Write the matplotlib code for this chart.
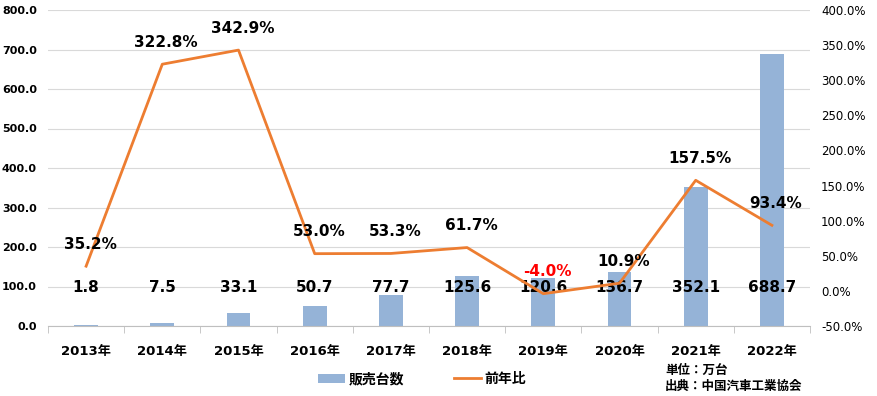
import matplotlib
matplotlib.use("Agg")
import matplotlib.pyplot as plt
from matplotlib.lines import Line2D
from matplotlib.patches import Patch

years = ["2013年", "2014年", "2015年", "2016年", "2017年", "2018年", "2019年", "2020年", "2021年", "2022年"]
sales = [1.8, 7.5, 33.1, 50.7, 77.7, 125.6, 120.6, 136.7, 352.1, 688.7]
yoy = [35.2, 322.8, 342.9, 53.0, 53.3, 61.7, -4.0, 10.9, 157.5, 93.4]
left_ticks = [0, 100, 200, 300, 400, 500, 600, 700, 800]
right_ticks = [-50, 0, 50, 100, 150, 200, 250, 300, 350, 400]

FAM = ["DejaVu Sans", "Noto Sans CJK JP"]
plt.rcParams["font.family"] = FAM

bar_color = "#95B3D7"
line_color = "#ED7D31"

fig = plt.figure(figsize=(8.78, 3.96), dpi=100)
ax = fig.add_axes([48/878, (396-326)/396, 762/878, 316/396])
ax2 = ax.twinx()

x = list(range(len(years)))
ax.bar(x, sales, width=0.31, color=bar_color, zorder=2)
ax.set_xlim(-0.5, len(years) - 0.5)
ax.set_ylim(0, 800)
ax.set_yticks(left_ticks)
ax.set_yticklabels([f"{v:.1f}" for v in left_ticks], fontsize=8, fontweight="bold")
ax.yaxis.grid(True, color="#D9D9D9", linewidth=0.8, zorder=0)
ax.set_axisbelow(True)
ax.set_xticks(x)
ax.set_xticklabels(years, fontsize=9.5, fontweight="bold")
ax.set_xticks([i - 0.5 for i in range(len(years) + 1)], minor=True)
ax.tick_params(axis="x", which="major", length=0, pad=14)
ax.tick_params(axis="x", which="minor", length=5, color="#BFBFBF")
ax.tick_params(axis="y", length=0, pad=8)
for s in ["top", "right", "left"]:
    ax.spines[s].set_visible(False)
ax.spines["bottom"].set_color("#BFBFBF")

for xi, v in zip(x, sales):
    ax.text(xi, 98, f"{v:.1f}", ha="center", va="center", fontsize=11, fontweight="bold", zorder=5)

ax2.plot(x, yoy, color=line_color, linewidth=2.0, zorder=3)
ax2.set_ylim(-50, 400)
ax2.set_yticks(right_ticks)
ax2.set_yticklabels([f"{v:.1f}%" for v in right_ticks], fontsize=8.5)
ax2.tick_params(axis="y", length=0, pad=8)
for s in ["top", "right", "left", "bottom"]:
    ax2.spines[s].set_visible(False)

for xi, v in zip(x, yoy):
    ax2.annotate(f"{v:.1f}%", (xi, v), xytext=(4, 22), textcoords="offset pixels",
                 ha="center", va="center", fontsize=11, fontweight="bold",
                 color="#FF0000" if v < 0 else "black")

handles = [Patch(facecolor=bar_color, edgecolor="none", label="販売台数"),
           Line2D([0], [0], color=line_color, linewidth=2.0, label="前年比")]
fig.legend(handles=handles, loc="center", bbox_to_anchor=(422/878, 1 - 379/396), ncol=2,
           frameon=False, prop={"family": FAM, "size": 10, "weight": "bold"},
           handlelength=1.95, handleheight=0.6, columnspacing=3.6, handletextpad=0.25)

fig.text(665/878, 1 - 370/396, "単位：万台", fontsize=9, fontweight="bold", va="center", ha="left")
fig.text(665/878, 1 - 386/396, "出典：中国汽車工業協会", fontsize=9, fontweight="bold", va="center", ha="left")

fig.savefig("out.png", dpi=100)
